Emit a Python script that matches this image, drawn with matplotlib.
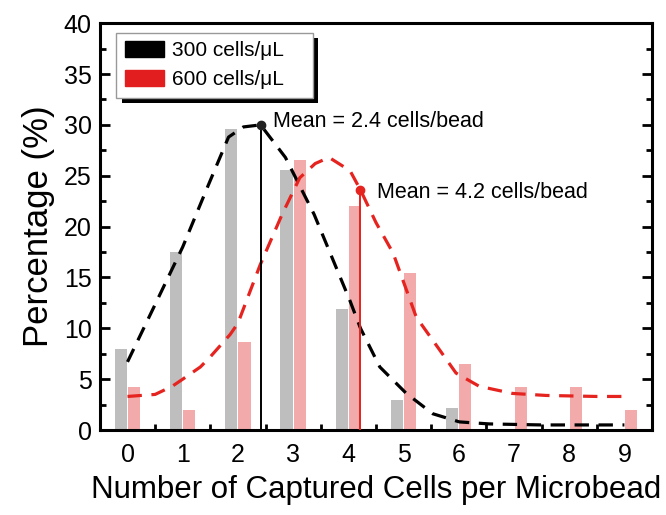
import matplotlib
matplotlib.use("Agg")
import matplotlib.pyplot as plt
import matplotlib.patheffects as pe
from matplotlib.patches import Patch
from matplotlib.ticker import MultipleLocator
import numpy as np

plt.rcParams['font.family'] = ['Liberation Sans', 'DejaVu Sans']

# cells per bead
cells = [0, 1, 2, 3, 4, 5, 6, 7, 8, 9]
pct_300 = [8.0, 17.5, 29.6, 25.6, 11.9, 3.0, 2.2, 0.0, 0.0, 0.0]
pct_600 = [4.2, 2.0, 8.7, 26.5, 22.0, 15.4, 6.5, 4.2, 4.2, 2.0]

# fitted curves
fit300_x = [0, 0.47, 1.0, 1.45, 1.83, 2.1, 2.41, 2.86, 3.38, 4.03, 4.22, 4.57, 5.05, 5.53, 6.01, 6.55, 7.5, 8.5, 9.0]
fit300_y = [6.7, 12.0, 18.0, 23.9, 28.8, 29.8, 30.0, 26.8, 21.2, 12.7, 10.0, 6.2, 3.6, 1.6, 0.8, 0.6, 0.5, 0.5, 0.5]
fit600_x = [0, 0.5, 0.81, 1.0, 1.32, 1.5, 1.86, 2.0, 2.4, 2.8, 3.12, 3.4, 3.65, 4.03, 4.22, 4.5, 4.81, 5.23, 5.65, 5.95, 6.37, 6.97, 7.58, 8.5, 9.0]
fit600_y = [3.3, 3.5, 4.3, 5.0, 6.2, 7.2, 9.4, 10.5, 16.2, 21.2, 24.8, 26.2, 26.8, 25.5, 23.6, 20.4, 17.4, 11.1, 7.9, 5.6, 4.3, 3.6, 3.4, 3.3, 3.3]

mean_300 = (2.41, 30.0)
mean_600 = (4.22, 23.6)
labels = ['300 cells/\u03bcL', '600 cells/\u03bcL']

fig = plt.figure(figsize=(6.66, 5.15), dpi=100)
ax = fig.add_axes([0.150, 0.165, 0.829, 0.790])

x = np.array(cells)
w = 0.22
ax.bar(x - 0.12, pct_300, w, color='#bebebe', zorder=1)
ax.bar(x + 0.12, pct_600, w, color='#f2aaaa', zorder=1)

ax.plot(fit300_x, fit300_y, color='black', lw=2.3, dashes=(4.5, 3), zorder=3)
ax.plot(fit600_x, fit600_y, color='#e52420', lw=2.3, dashes=(4.5, 3), zorder=3)

# mean markers
ax.plot([mean_300[0], mean_300[0]], [0, mean_300[1]], color='black', lw=1.4, zorder=4)
ax.plot(*mean_300, 'o', color='#222222', ms=6, zorder=5)
ax.plot([mean_600[0], mean_600[0]], [0, mean_600[1]], color='#e52420', lw=1.4, zorder=4)
ax.plot(*mean_600, 'o', color='#e52420', ms=6, zorder=5)
ax.text(2.64, 30.3, 'Mean = 2.4 cells/bead', fontsize=15.5, va='center', ha='left')
ax.text(4.51, 23.4, 'Mean = 4.2 cells/bead', fontsize=15.5, va='center', ha='left')

ax.set_xlim(-0.5, 9.5)
ax.set_ylim(0, 40)
ax.set_xticks(cells)
ax.xaxis.set_minor_locator(MultipleLocator(0.5))
ax.yaxis.set_major_locator(MultipleLocator(5))
ax.yaxis.set_minor_locator(MultipleLocator(2.5))
ax.tick_params(axis='x', which='major', length=0, pad=9, labelsize=18)
ax.tick_params(axis='x', which='minor', direction='in', length=4, width=2)
ax.tick_params(axis='y', which='major', direction='in', length=7, width=2,
               right=True, labelsize=18, pad=6)
ax.tick_params(axis='y', which='minor', direction='in', length=4, width=2, right=True)
for s in ax.spines.values():
    s.set_linewidth(2.2)

ax.set_xlabel('Number of Captured Cells per Microbead', fontsize=22.5, labelpad=6)
ax.set_ylabel('Percentage (%)', fontsize=25, labelpad=6)

handles = [Patch(color='black'), Patch(color='#e31e1e')]
# trailing em spaces give the box the extra room on the right seen in the reference
leg = ax.legend(handles, [l + '\u2003' for l in labels], loc='upper left',
                bbox_to_anchor=(0.03, 0.977),
                fontsize=15, handlelength=1.9, handleheight=0.85, handletextpad=0.35,
                labelspacing=0.45, borderpad=0.4, borderaxespad=0, fancybox=False,
                edgecolor='#999999', framealpha=1)
leg.get_frame().set_linewidth(1.0)
leg.get_frame().set_path_effects([
    pe.SimplePatchShadow(offset=(4, -4), shadow_rgbFace='black', alpha=1),
    pe.Normal()])

plt.savefig('out.png', dpi=100)
